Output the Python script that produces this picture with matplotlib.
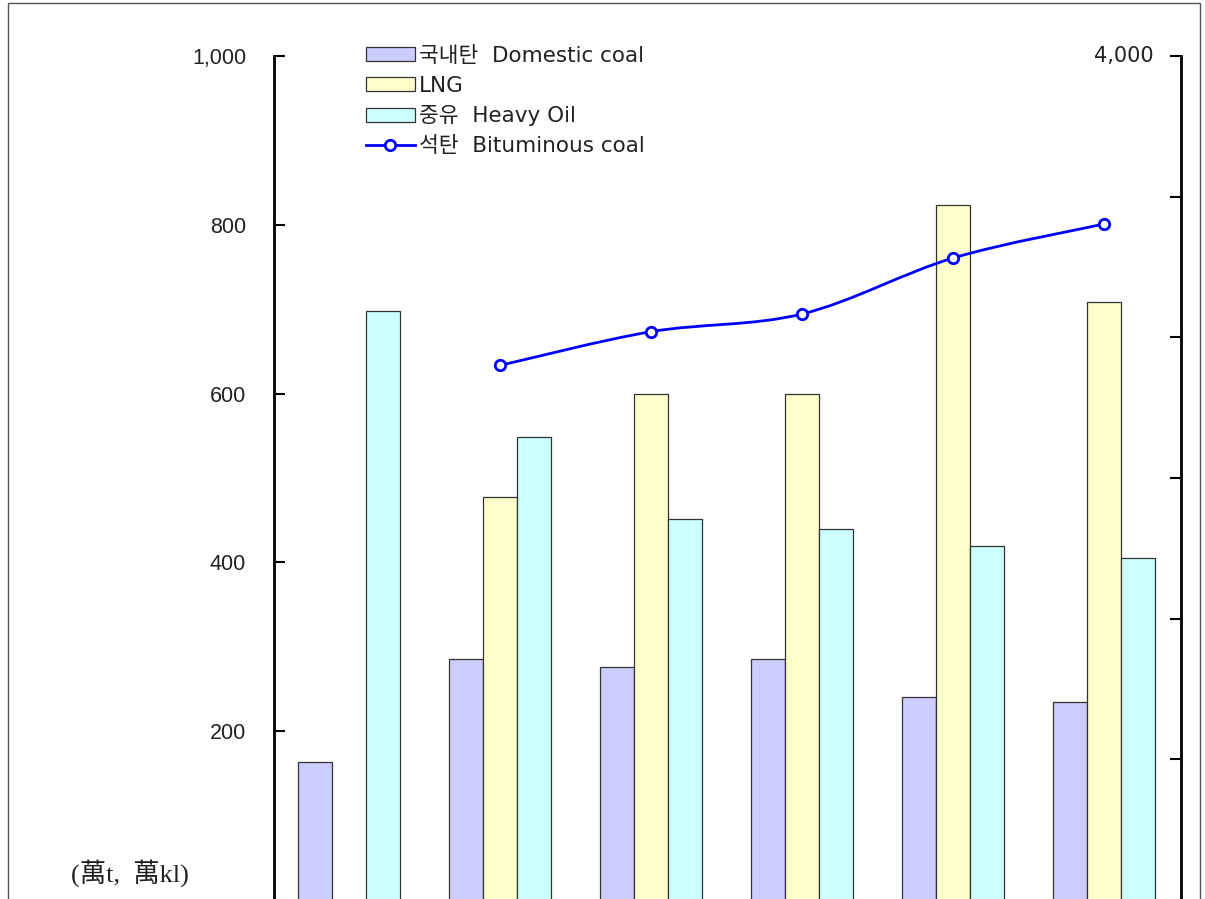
import matplotlib
matplotlib.use('Agg')
import matplotlib.pyplot as plt
from matplotlib.patches import Rectangle, PathPatch
from matplotlib.path import Path
from matplotlib.lines import Line2D
from matplotlib.ticker import FuncFormatter
import numpy as np

# values (bars on left axis, line on right axis)
groups = [0, 1, 2, 3, 4, 5]
domestic = [164, 286, 276, 286, 240, 235]
lng = [0, 478, 600, 600, 824, 708]
heavy_oil = [698, 549, 452, 440, 419, 405]
bit_x = [1, 2, 3, 4, 5]
bituminous = [2900, 3020, 3083, 3282, 3403]

names = ['국내탄  Domestic coal', 'LNG', '중유  Heavy Oil', '석탄  Bituminous coal']
colors = ['#CCCCFF', '#FFFFCC', '#CCFFFF']

W, H = 1205, 899
fig = plt.figure(figsize=(W / 100, H / 100), dpi=100)
fig.patch.set_facecolor('white')

top = 1 - 56 / H
height = 844 / H
ax = fig.add_axes([274 / W, top - height, 907 / W, height])
x = np.array(groups)
bw = 0.225
b1 = ax.bar(x - bw, domestic, bw, color=colors[0], edgecolor='#333333', linewidth=0.9)
b2 = ax.bar(x, lng, bw, color=colors[1], edgecolor='#333333', linewidth=0.9)
b3 = ax.bar(x + bw, heavy_oil, bw, color=colors[2], edgecolor='#333333', linewidth=0.9)
ax.set_xlim(-0.493, 5.507)
ax.set_ylim(0, 1000)
ax.set_yticks(range(0, 1001, 200))
ax.yaxis.set_major_formatter(FuncFormatter(lambda v, p: '' if v == 0 else f'{int(v):,}'))
ax.set_xticks([])
ax.tick_params(axis='y', direction='in', length=8, width=1.5, pad=20,
               labelsize=15.5, labelfontfamily='Liberation Sans', labelcolor='#222222')
for s in ['top', 'right', 'bottom']:
    ax.spines[s].set_visible(False)
ax.spines['left'].set_linewidth(2)

ax2 = ax.twinx()
# smoothed line through the points (bezier segments, like a spreadsheet "smooth line")
px = np.array(bit_x, dtype=float)
py = np.array(bituminous, dtype=float)
verts = [(px[0], py[0])]
codes = [Path.MOVETO]
n = len(px)
for i in range(n - 1):
    p0 = (px[max(i - 1, 0)], py[max(i - 1, 0)])
    p1 = (px[i], py[i])
    p2 = (px[i + 1], py[i + 1])
    p3 = (px[min(i + 2, n - 1)], py[min(i + 2, n - 1)])
    c1 = (p1[0] + (p2[0] - p0[0]) / 6, p1[1] + (p2[1] - p0[1]) / 6)
    c2 = (p2[0] - (p3[0] - p1[0]) / 6, p2[1] - (p3[1] - p1[1]) / 6)
    verts += [c1, c2, p2]
    codes += [Path.CURVE4] * 3
ax2.add_patch(PathPatch(Path(verts, codes), facecolor='none', edgecolor='#0000FF', lw=2))
ax2.plot(bit_x, bituminous, ls='none', marker='o', ms=7.5,
         mfc='white', mec='#0000FF', mew=2, zorder=3)
ln = Line2D([], [], color='#0000FF', lw=2, marker='o', ms=7.5, mfc='white', mec='#0000FF', mew=2)
ax2.set_ylim(1000, 4000)
ax2.set_yticks(range(1000, 4001, 500))
ax2.set_yticklabels([])
ax2.tick_params(axis='y', direction='in', length=8, width=1.5)
for s in ['top', 'left', 'bottom']:
    ax2.spines[s].set_visible(False)
ax2.spines['right'].set_linewidth(2)
ax2.annotate('4,000', xy=(1, 4000), xycoords=ax2.get_yaxis_transform(),
             xytext=(-20, 0), textcoords='offset points', ha='right', va='center',
             fontsize=15, family='DejaVu Sans', color='#222222')

leg = ax.legend([b1, b2, b3, ln], names, loc='upper left',
                bbox_to_anchor=(366 / W, 1 - 46 / H), bbox_transform=fig.transFigure,
                frameon=False, prop={'family': ['DejaVu Sans', 'Noto Sans CJK KR'], 'size': 15.5},
                handlelength=2.27, handleheight=0.63, handletextpad=0.2,
                labelspacing=0.45, borderpad=0, borderaxespad=0)
for t in leg.get_texts():
    t.set_color('#222222')

fig.text(130 / W, 1 - 873 / H, '(萬t,  萬kl)', ha='center', va='center',
         fontsize=19, family=['Liberation Serif', 'Noto Sans CJK KR'], color='#222222')

fig.add_artist(Rectangle((8 / W, -0.01), 1192 / W, 1 - 3 / H + 0.01,
                         transform=fig.transFigure, fill=False,
                         edgecolor='#555555', lw=1))

fig.savefig('out.png', dpi=100)
